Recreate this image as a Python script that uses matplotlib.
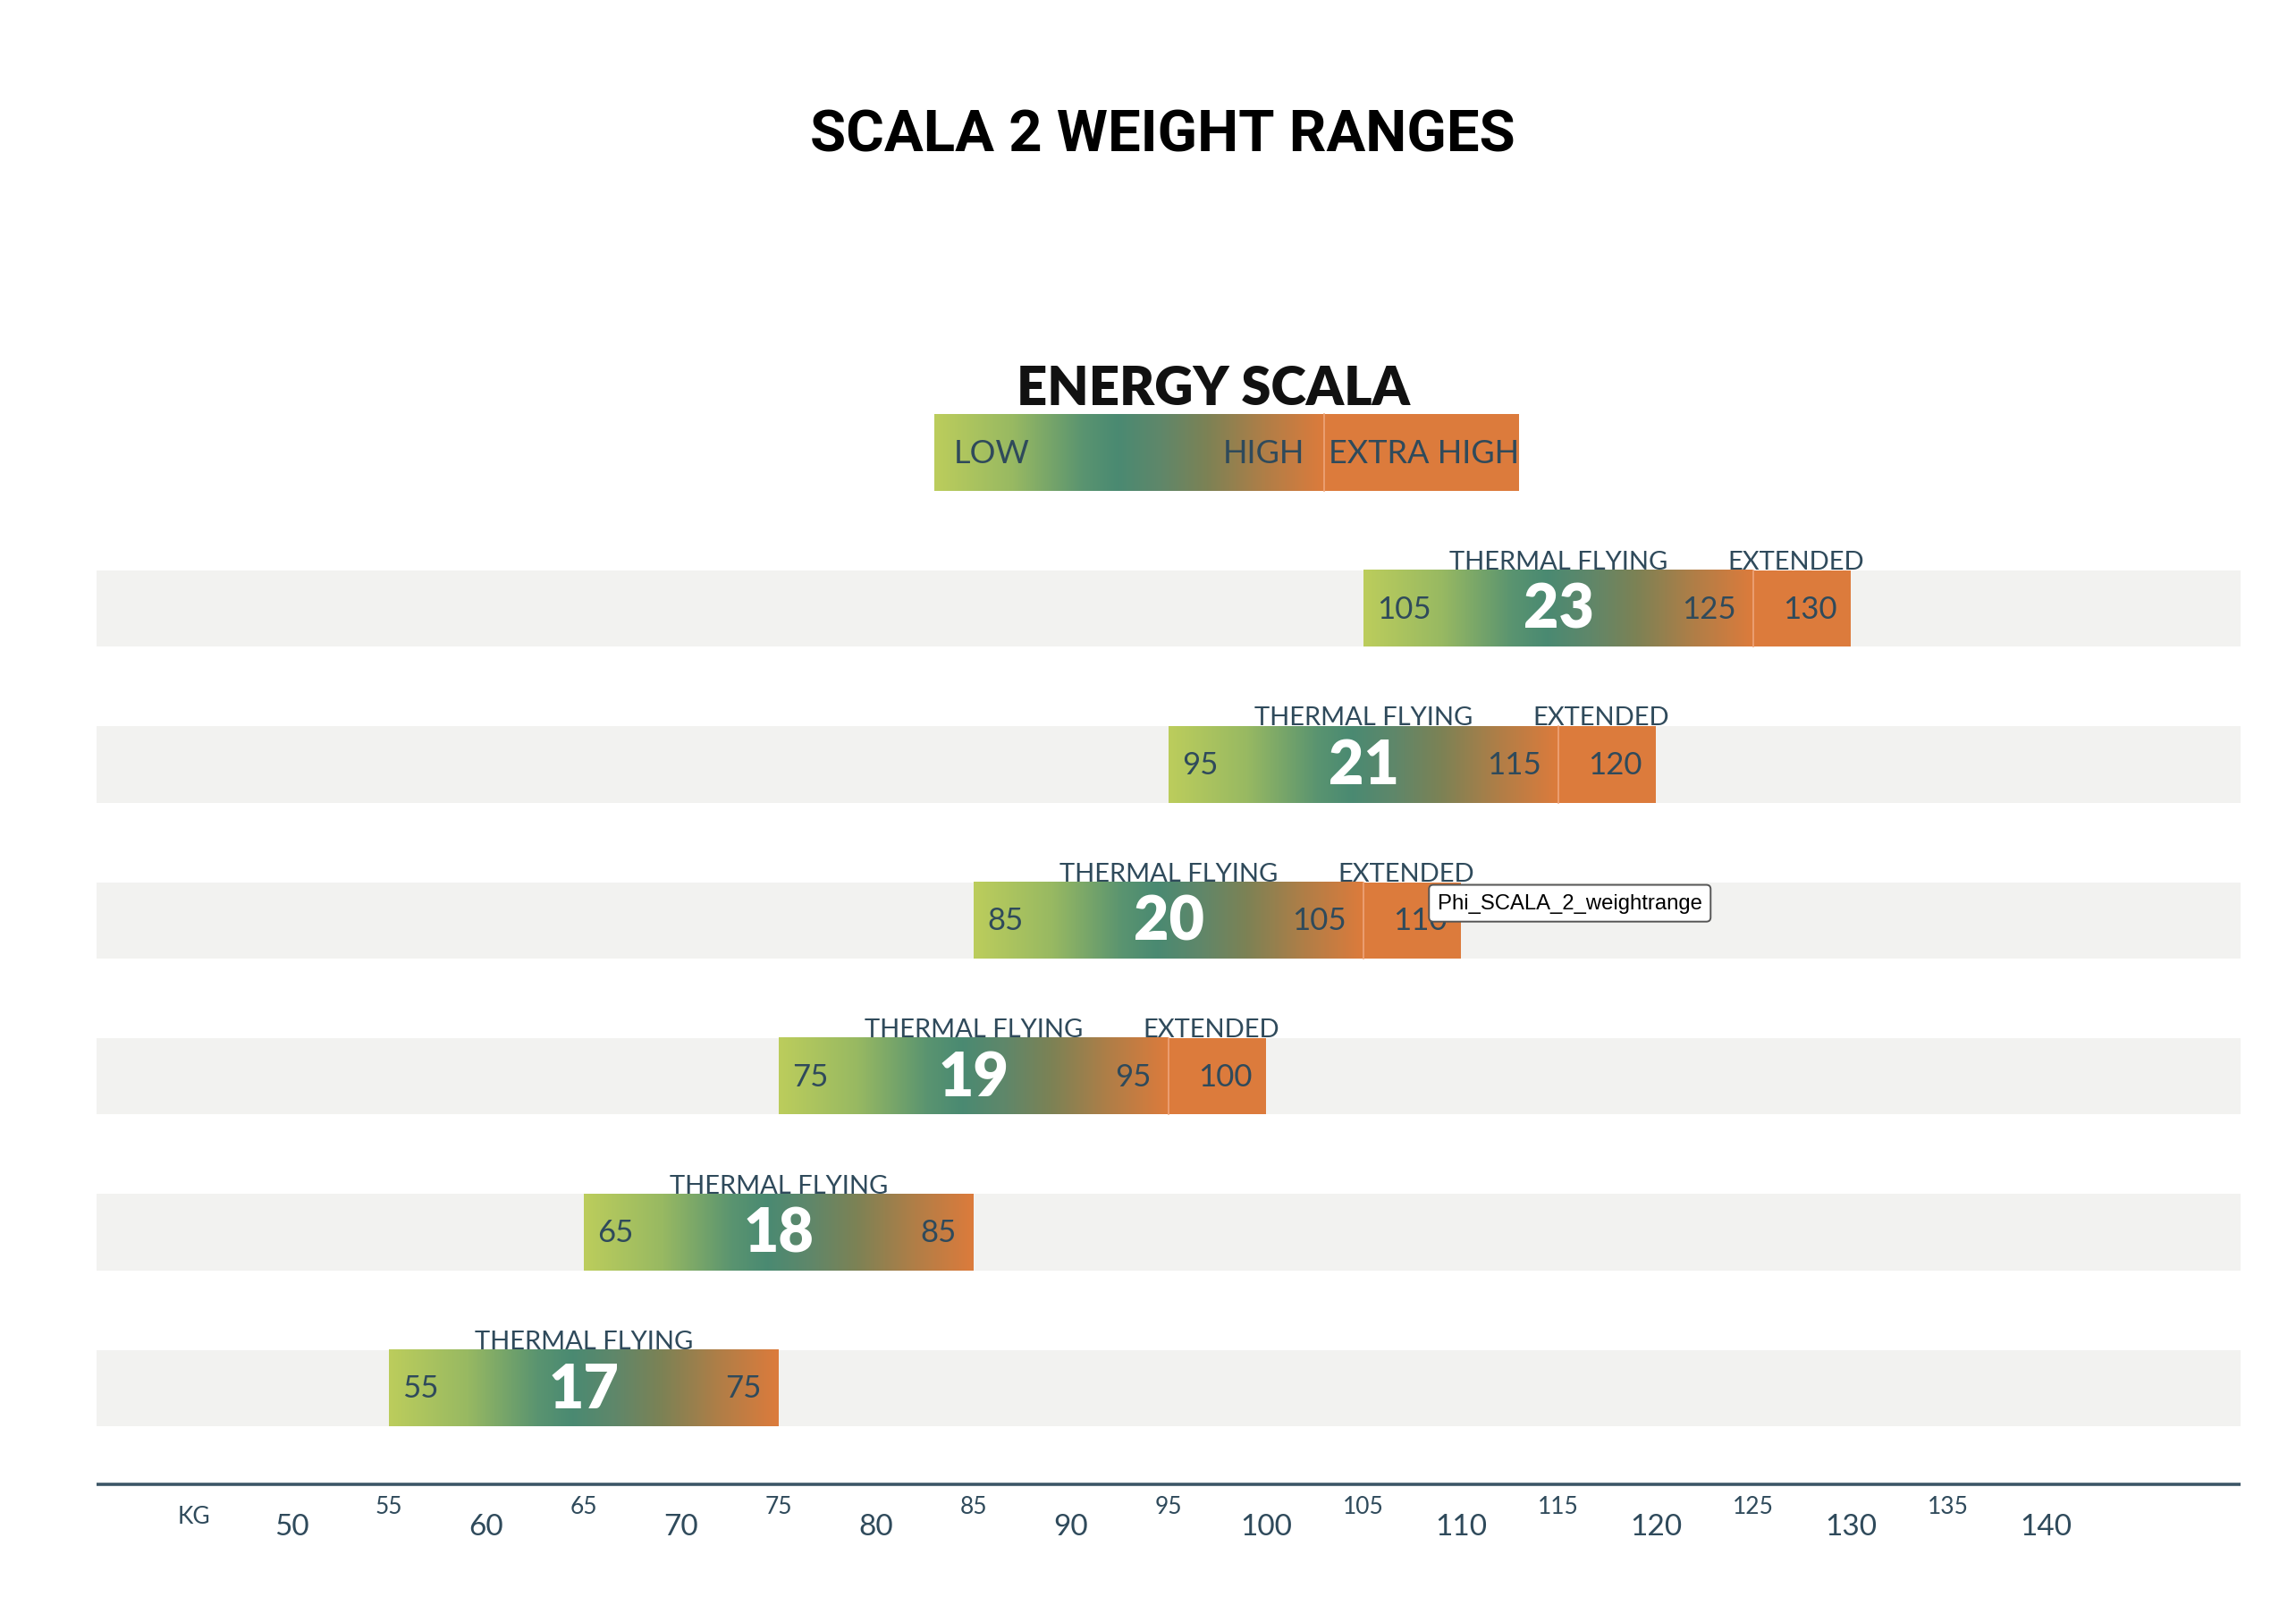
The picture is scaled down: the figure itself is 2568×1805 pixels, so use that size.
import numpy as np
import matplotlib
matplotlib.use("Agg")
import matplotlib.pyplot as plt
from matplotlib.colors import LinearSegmentedColormap
from matplotlib.patches import Rectangle

# =========================
# DATA
# =========================
SIZES = ["17", "18", "19", "20", "21", "23"]
LOW_KG = [55, 65, 75, 85, 95, 105]
HIGH_KG = [75, 85, 95, 105, 115, 125]
EXT_KG = [None, None, 100, 110, 120, 130]

MAJOR_TICKS = [50, 60, 70, 80, 90, 100, 110, 120, 130, 140]
MINOR_TICKS = [55, 65, 75, 85, 95, 105, 115, 125, 135]

LEGEND_LOW = 83
LEGEND_HIGH = 103
LEGEND_EXTRA = 113

# =========================
# STYLE
# =========================
TEXT_COL = "#2f4a5b"
AXIS_COL = "#3b5566"
BAND_COL = "#f2f2f0"
ORANGE = "#dc7b3c"
FONT = ["Lato", "DejaVu Sans"]

GRAD = LinearSegmentedColormap.from_list(
    "energy",
    [(0.0, "#bccd5c"), (0.2, "#98b962"), (0.38, "#5a9470"), (0.47, "#4a8a72"),
     (0.58, "#5f876a"), (0.7, "#7c8255"), (0.85, "#b07e47"), (1.0, "#dc7b3c")])

BAR_H = 0.49
X_MIN, X_MAX = 40, 150


def draw_gradient(ax, x0, x1, y):
    grad = np.linspace(0, 1, 256).reshape(1, -1)
    ax.imshow(grad, extent=[x0, x1, y - BAR_H / 2, y + BAR_H / 2],
              aspect="auto", cmap=GRAD, interpolation="bicubic", zorder=2)


def draw_extended(ax, x0, x1, y):
    ax.add_patch(Rectangle((x0, y - BAR_H / 2), x1 - x0, BAR_H,
                           facecolor=ORANGE, edgecolor="none", zorder=2))
    ax.plot([x0, x0], [y - BAR_H / 2, y + BAR_H / 2], color="#eea57a",
            lw=0.6, zorder=3)


# =========================
# MAIN
# =========================
def main():
    fig = plt.figure(figsize=(12.84, 9.03), dpi=200)
    ax = fig.add_axes([108 / 2568, 0, (2506 - 108) / 2568, 1])

    # rows
    for i, size in enumerate(SIZES):
        lo, hi, ext = LOW_KG[i], HIGH_KG[i], EXT_KG[i]
        y = i
        ax.add_patch(Rectangle((X_MIN, y - BAR_H / 2), X_MAX - X_MIN, BAR_H,
                               facecolor=BAND_COL, edgecolor="none", zorder=1))
        draw_gradient(ax, lo, hi, y)
        if ext is not None:
            draw_extended(ax, hi, ext, y)

        ax.text(lo + 0.7, y, str(lo), ha="left", va="center",
                fontsize=12.5, color=TEXT_COL, family=FONT, zorder=4)
        ax.text(hi - 0.9, y, str(hi), ha="right", va="center",
                fontsize=12.5, color=TEXT_COL, family=FONT, zorder=4)
        ax.text((lo + hi) / 2, y - 0.01, size, ha="center", va="center",
                fontsize=24.5, fontweight="heavy", color="white",
                family=FONT, zorder=4)
        ax.text((lo + hi) / 2, y + BAR_H / 2 + 0.01, "THERMAL FLYING",
                ha="center", va="baseline", fontsize=10.5,
                color=TEXT_COL, family=FONT, zorder=4)
        if ext is not None:
            ax.text(ext - 0.7, y, str(ext), ha="right", va="center",
                    fontsize=12.5, color=TEXT_COL, family=FONT, zorder=4)
            ax.text((hi + ext) / 2 - 0.3, y + BAR_H / 2 + 0.01, "EXTENDED",
                    ha="center", va="baseline", fontsize=10.5,
                    color=TEXT_COL, family=FONT, zorder=4)

    # legend
    ly = len(SIZES)
    draw_gradient(ax, LEGEND_LOW, LEGEND_HIGH, ly)
    draw_extended(ax, LEGEND_HIGH, LEGEND_EXTRA, ly)
    ax.text(LEGEND_LOW + 1.0, ly, "LOW", ha="left", va="center",
            fontsize=13, color=TEXT_COL, family=FONT, zorder=4)
    ax.text(LEGEND_HIGH - 1.0, ly, "HIGH", ha="right", va="center",
            fontsize=13, color=TEXT_COL, family=FONT, zorder=4)
    ax.text(LEGEND_HIGH + 0.2, ly, "EXTRA HIGH", ha="left", va="center",
            fontsize=13, color=TEXT_COL, family=FONT, zorder=4)
    ax.text(97.3, ly + 0.31, "ENERGY SCALA", ha="center", va="baseline",
            fontsize=21.5, fontweight="heavy", color="#111111", family=FONT)

    # kg axis
    ax.plot([X_MIN, X_MAX], [-0.615, -0.615], color=AXIS_COL, lw=1.3,
            solid_capstyle="butt")
    ax.text(45, -0.822, "KG", ha="center", va="center", fontsize=9.5,
            color=TEXT_COL, family=FONT)
    for t in MAJOR_TICKS:
        ax.text(t, -0.887, str(t), ha="center", va="center", fontsize=12,
                color=TEXT_COL, family=FONT)
    for t in MINOR_TICKS:
        ax.text(t, -0.756, str(t), ha="center", va="center", fontsize=9.5,
                color=TEXT_COL, family=FONT)

    # browser tooltip captured in the screenshot
    ax.text(108.8, 3.11, "Phi_SCALA_2_weightrange", ha="left", va="center",
            fontsize=8.6, color="black", family=["Liberation Sans", "DejaVu Sans"],
            zorder=6,
            bbox=dict(boxstyle="round,pad=0.4,rounding_size=0.2",
                      facecolor="white", edgecolor="#555555", lw=0.7))

    fig.text(1300 / 2568, 1 - 152 / 1806, "SCALA 2 WEIGHT RANGES",
             ha="center", va="center", fontsize=23.5, fontweight="bold",
             color="black", family=["Roboto", "DejaVu Sans"])

    ax.set_xlim(X_MIN, X_MAX)
    ax.set_ylim(-1.448, 8.908)
    ax.axis("off")

    fig.savefig("out.png", dpi=200, facecolor="white")


if __name__ == "__main__":
    main()
